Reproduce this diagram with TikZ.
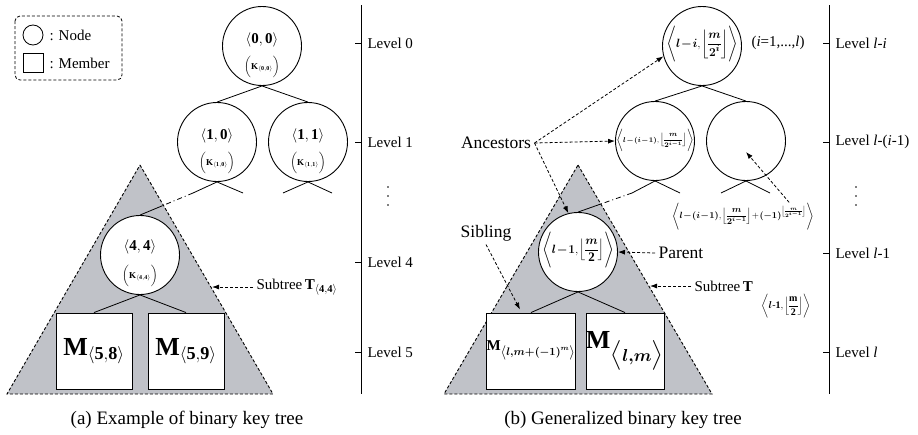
\documentclass[tikz,border=0pt]{standalone}
\usepackage{amsmath,bm}
\usepackage{fontspec}
\setmainfont{Liberation Serif}
\usetikzlibrary{arrows.meta,calc}

\definecolor{treegray}{RGB}{192,194,200}
\newcommand{\tstrut}[2]{\vrule height #1 depth #2 width 0pt}

\tikzset{
  keynode/.style={circle,draw,line width=0.9pt,fill=white,minimum size=79pt,inner sep=0pt},
  member/.style={rectangle,draw,line width=0.9pt,fill=white,minimum width=76pt,minimum height=76pt,inner sep=0pt},
  subtree/.style={fill=treegray,draw,densely dashed,line width=0.9pt},
  branch/.style={line width=0.8pt},
  pointer/.style={densely dashed,line width=0.8pt,-{Latex[length=7pt,width=5pt]}},
  skip/.style={line width=0.8pt,dash pattern=on 5pt off 3pt on 1pt off 3pt},
  lvl/.style={anchor=west,font=\fontsize{15}{18}\selectfont},
  lbl/.style={font=\fontsize{17.5}{20}\selectfont},
  keytxt/.style={font=\fontsize{15}{18}\selectfont,inner sep=0pt},
  keysub/.style={font=\fontsize{9}{11}\selectfont,inner sep=0pt},
  tight/.style={inner sep=0pt,execute at begin node={\medmuskip=1mu\thinmuskip=1mu\nulldelimiterspace=0pt}},
  caption/.style={font=\fontsize{19}{22}\selectfont},
}

\begin{document}
\begin{tikzpicture}[x=1pt,y=-1pt]
\useasboundingbox (0,0) rectangle (918,434);

% legend
\draw[densely dashed,rounded corners=5pt,line width=0.8pt] (15,16) rectangle (122,80);
\node[draw,circle,line width=0.8pt,minimum size=20pt,inner sep=0pt] (lgnode) at (33,35) {};
\node[lvl] (lgnodet) at (46,35) {: Node};
\node[draw,line width=0.8pt,minimum width=20pt,minimum height=19pt,inner sep=0pt] (lgmem) at (33,63) {};
\node[lvl] (lgmemt) at (46,63) {: Member};

% (a) example tree
\draw[subtree] (140,165) -- (273,394) -- (7,394) -- cycle;

\node[keynode] (k00) at (262,46) {};
\node[keynode] (k10) at (217,142) {};
\node[keynode] (k11) at (308,142) {};
\node[keynode] (k44) at (140,255) {};
\node[member] (m58) at (94,351) {\fontsize{26}{30}\selectfont$\mathbf{M}_{\langle\mathbf{5,8}\rangle}$};
\node[member] (m59) at (186,351) {\fontsize{26}{30}\selectfont$\mathbf{M}_{\langle\mathbf{5,9}\rangle}$};

\node[keytxt] (k00a) at (262,40) {$\langle\mathbf{0},\mathbf{0}\rangle$};
\node[keysub] (k00b) at (262,67) {$\biggl(\mathbf{K}_{\langle\mathbf{0,0}\rangle}\biggr)$};
\node[keytxt] (k10a) at (217,136) {$\langle\mathbf{1},\mathbf{0}\rangle$};
\node[keysub] (k10b) at (217,163) {$\biggl(\mathbf{K}_{\langle\mathbf{1,0}\rangle}\biggr)$};
\node[keytxt] (k11a) at (308,136) {$\langle\mathbf{1},\mathbf{1}\rangle$};
\node[keysub] (k11b) at (308,163) {$\biggl(\mathbf{K}_{\langle\mathbf{1,1}\rangle}\biggr)$};
\node[keytxt] (k44a) at (140,247) {$\langle\mathbf{4},\mathbf{4}\rangle$};
\node[keysub] (k44b) at (140,276) {$\biggl(\mathbf{K}_{\langle\mathbf{4,4}\rangle}\biggr)$};

\draw[branch] (k10.north) -- (k00.south) -- (k11.north);
\coordinate (x10l) at (193,193);
\coordinate (x10r) at (243,193);
\coordinate (x11l) at (283,193);
\coordinate (x11r) at (332,193);
\draw[branch] (x10l) -- (k10.south) -- (x10r);
\draw[branch] (x11l) -- (k11.south) -- (x11r);
\coordinate (cut44) at ($(x10l)!0.58!(k44.north)$);
\draw[skip] (x10l) -- (cut44);
\draw[branch] (cut44) -- (k44.north);
\draw[branch] (m58.north) -- (k44.south) -- (m59.north);

\node[lvl] (st44) at (253,287) {Subtree\,$\mathbf{T}_{\langle\mathbf{4,4}\rangle}$};
\coordinate (e44) at (212,287);
\draw[pointer] (st44.west) -- (e44);

% levels (a)
\draw[line width=0.8pt] (361,5) -- (361,394);
\foreach \y/\lvtext [count=\i] in {43/0,142/1,262/4,352/5} {
  \draw[line width=0.8pt] (355,\y) -- (361,\y);
  \node[lvl] (lva\i) at (364,\y) {Level \lvtext};
}
\foreach \y in {187,196,205} \fill (388,\y) circle (0.9pt);

\node[caption] (capa) at (187,420) {(a) Example of binary key tree};

% (b) generalized tree
\draw[subtree] (578,165) -- (712,394) -- (444,394) -- cycle;

\node[keynode] (kt) at (702,46) {};
\node[keynode] (kl) at (655,141) {};
\node[keynode] (kr) at (746,141) {};
\node[keynode] (kp) at (578,252) {};
\node[member,tight] (ms) at (531,351) {\fontsize{15}{18}\selectfont$\mathbf{M}_{\left\langle\tstrut{7pt}{5pt}\bm{l,m+(-1)^{m}}\right\rangle}$};
\node[member] (mm) at (625,351) {\fontsize{26}{30}\selectfont$\mathbf{M}_{\bigl\langle\bm{l,m}\bigr\rangle}$};

\node[tight] (kta) at (702,46) {\fontsize{13}{16}\selectfont$\left\langle\tstrut{22pt}{20pt}\bm{l-i},\left\lfloor\dfrac{\bm{m}}{\bm{2^{i}}}\right\rfloor\right\rangle$};
\node[tight] (kla) at (655,141) {\fontsize{7.5}{9}\selectfont$\left\langle\tstrut{15pt}{13pt}\bm{l-(i-1)},\left\lfloor\dfrac{\bm{m}}{\bm{2^{i-1}}}\right\rfloor\right\rangle$};
\node[tight] (kpa) at (578,252) {\fontsize{13}{16}\selectfont$\left\langle\tstrut{24pt}{22pt}\bm{l-1},\left\lfloor\dfrac{\bm{m}}{\mathbf{2}}\right\rfloor\right\rangle$};

\draw[branch] (kl.north) -- (kt.south) -- (kr.north);
\coordinate (xll) at (632,193);
\coordinate (xlr) at (680,193);
\coordinate (xrl) at (721,193);
\coordinate (xrr) at (770,193);
\draw[branch] (xll) -- (kl.south) -- (xlr);
\draw[branch] (xrl) -- (kr.south) -- (xrr);
\coordinate (cutp) at ($(xll)!0.57!(kp.north)$);
\draw[skip] (xll) -- (cutp);
\draw[branch] (cutp) -- (kp.north);
\draw[branch] (ms.north) -- (kp.south) -- (mm.north);

% labels and pointers (b)
\node[lbl] (anc) at (496,143) {Ancestors};
\draw[pointer] (anc.east) -- (kt.195);
\draw[pointer] (anc.east) -- (kl.west);
\draw[pointer] (anc.east) -- (kp.104);

\node[tight] (kdesc) at (743,217) {\fontsize{9}{11}\selectfont$\left\langle\tstrut{14pt}{13pt}\bm{l-(i-1)},\left\lfloor\dfrac{\bm{m}}{\bm{2^{i-1}}}\right\rfloor+\bm{(-1)}^{\left\lfloor\frac{\bm{m}}{\bm{2^{i-1}}}\right\rfloor}\right\rangle$};
\draw[pointer] ($(kdesc.north east)!0.35!(kdesc.north)$) -- ($(kr.center)+(0,11)$);

\node[lbl,anchor=west] (parl) at (655,253) {Parent};
\draw[pointer] (parl.west) -- (kp.east);

\node[lbl] (sibl) at (486,233) {Sibling};
\draw[pointer] (sibl.south) -- ($(ms.north)+(-11,-3)$);

\node[lvl] (stl) at (691,286) {Subtree\,$\mathbf{T}$};
\node[tight,anchor=west] (stlsub) at (761,306) {\fontsize{10}{12}\selectfont$\left\langle\tstrut{12pt}{10pt}\bm{l}\text{-}\mathbf{1},\left\lfloor\dfrac{\mathbf{m}}{\mathbf{2}}\right\rfloor\right\rangle$};
\coordinate (el) at (650,286);
\draw[pointer] (stl.west) -- (el);

% levels (b)
\draw[line width=0.8pt] (829,5) -- (829,394);
\foreach \y/\lvtext [count=\i] in {43/\textit{l}-\textit{i},142/\textit{l}-(\textit{i}-1),253/\textit{l}-1,352/\textit{l}} {
  \draw[line width=0.8pt] (823,\y) -- (829,\y);
  \node[lvl] (lvb\i) at (832,\y) {Level \lvtext};
}
\node[lvl] (irange) at (748,43) {(\textit{i}=1,...,\textit{l})};
\foreach \y in {187,196,205} \fill (856,\y) circle (0.9pt);

\node[caption] (capb) at (623,420) {(b) Generalized binary key tree};

\end{tikzpicture}
\end{document}
